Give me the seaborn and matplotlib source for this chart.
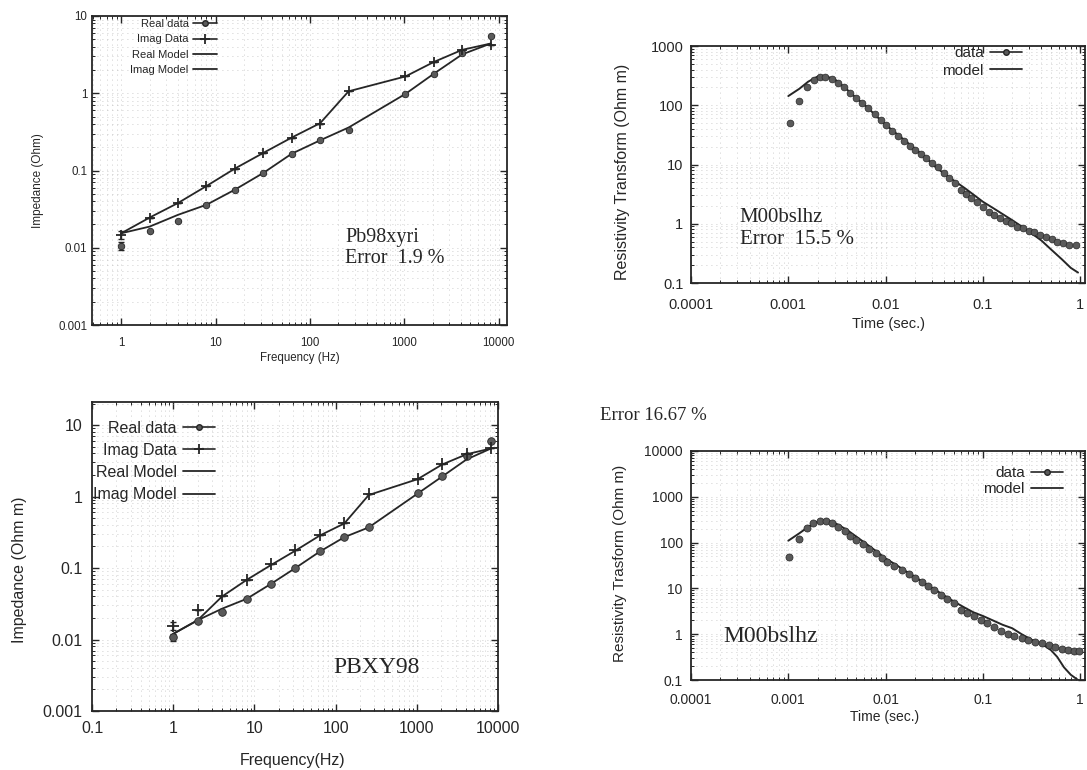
import numpy as np
import matplotlib
matplotlib.use("Agg")
import matplotlib.pyplot as plt
from matplotlib.lines import Line2D
from matplotlib.ticker import LogLocator, FuncFormatter, NullFormatter
import seaborn as sns


# top left: Pb98xyri impedance
tl_freq = [1, 2, 4, 8, 16, 32, 64, 128, 256, 1024, 2048, 4096, 8192]
tl_real = [0.0105, 0.0165, 0.022, 0.0353, 0.0553, 0.093, 0.162, 0.246, 0.333, 0.98, 1.79, 3.3, 5.5]
tl_imag = [0.0146, 0.0246, 0.038, 0.0625, 0.105, 0.167, 0.267, 0.40, 1.06, 1.65, 2.54, 3.6, 4.2]
tl_real_err = [0.0012, 0, 0, 0, 0, 0, 0, 0, 0, 0, 0, 0, 0]
tl_imag_err = [0.0018, 0, 0, 0, 0, 0, 0, 0, 0, 0, 0, 0, 0]
tl_real_model = [0.0154, 0.0188, 0.0267, 0.036, 0.0565, 0.093, 0.165, 0.246, 0.36, 0.98, 1.79, 3.19, 4.4]
tl_imag_model = [0.0154, 0.0246, 0.038, 0.063, 0.106, 0.169, 0.267, 0.41, 1.06, 1.65, 2.54, 3.65, 4.4]

# bottom left: PBXY98 impedance
bl_freq = [1, 2, 4, 8, 16, 32, 64, 128, 256, 1024, 2048, 4096, 8192]
bl_real = [0.0108, 0.0181, 0.0242, 0.0372, 0.0603, 0.1, 0.173, 0.272, 0.376, 1.12, 1.93, 3.67, 6.0]
bl_imag = [0.0157, 0.026, 0.040, 0.0686, 0.112, 0.177, 0.287, 0.428, 1.10, 1.75, 2.81, 3.92, 4.71]
bl_real_err = [0.0013, 0, 0, 0, 0, 0, 0, 0, 0, 0, 0, 0, 0]
bl_imag_err = [0.002, 0, 0, 0, 0, 0, 0, 0, 0, 0, 0, 0, 0]
bl_real_model = [0.012, 0.0186, 0.027, 0.037, 0.06, 0.1, 0.17, 0.27, 0.37, 1.1, 1.9, 3.3, 4.7]
bl_imag_model = [0.012, 0.0186, 0.040, 0.068, 0.11, 0.175, 0.285, 0.42, 1.05, 1.75, 2.8, 3.9, 4.7]

# top right: M00bslhz resistivity transform (error 15.5 %)
tr_time = [0.00103, 0.0013, 0.00155, 0.00182, 0.00212, 0.00239, 0.0028, 0.00323, 0.00374, 0.00431,
           0.00492, 0.00575, 0.00664, 0.00777, 0.00895, 0.0102, 0.0117, 0.0135, 0.0155, 0.0177,
           0.02, 0.023, 0.0262, 0.0302, 0.0345, 0.0398, 0.0448, 0.0512, 0.0589, 0.0673,
           0.0758, 0.0872, 0.0998, 0.115, 0.131, 0.151, 0.173, 0.195, 0.224, 0.256,
           0.295, 0.337, 0.385, 0.443, 0.507, 0.583, 0.673, 0.769, 0.898]
tr_rho = [50.7, 118, 206, 267, 303, 303, 277, 240, 201, 163,
          134, 108, 88.8, 70.3, 56.3, 46.5, 37.2, 30.6, 24.9, 20.5,
          17.6, 15, 12.7, 10.8, 8.9, 7.1, 5.84, 4.82, 3.72, 3.14,
          2.69, 2.36, 1.94, 1.6, 1.4, 1.24, 1.11, 1.02, 0.89, 0.84,
          0.76, 0.72, 0.645, 0.60, 0.547, 0.50, 0.468, 0.438, 0.43]
tr_mtime = [0.001, 0.0013, 0.0016, 0.002, 0.0024, 0.003, 0.004, 0.005, 0.0065, 0.008,
            0.01, 0.013, 0.016, 0.02, 0.025, 0.032, 0.04, 0.05, 0.065, 0.08,
            0.1, 0.13, 0.16, 0.2, 0.25, 0.32, 0.4, 0.5, 0.65, 0.8, 0.95]
tr_mrho = [143, 190, 250, 305, 310, 275, 185, 132, 92, 66,
           47, 33, 25, 18.5, 13.8, 9.3, 7.0, 5.4, 4.0, 3.1,
           2.35, 1.8, 1.45, 1.15, 0.9, 0.68, 0.52, 0.37, 0.25, 0.18, 0.15]

# bottom right: M00bslhz resistivity transform (error 16.67 %)
br_time = [0.00102, 0.00129, 0.00155, 0.00181, 0.00212, 0.00244, 0.0028, 0.00324, 0.0038, 0.00434,
           0.005, 0.00588, 0.00673, 0.00789, 0.0091, 0.0104, 0.0122, 0.0146, 0.0172, 0.0201,
           0.0235, 0.027, 0.0317, 0.0372, 0.0428, 0.0499, 0.0589, 0.0691, 0.081, 0.0949,
           0.111, 0.131, 0.153, 0.179, 0.21, 0.25, 0.294, 0.344, 0.404, 0.473,
           0.555, 0.65, 0.75, 0.86, 0.98]
br_rho = [47.8, 118, 205, 264, 301, 301, 272, 222, 182, 141,
          114, 91.3, 72, 58.3, 45.4, 37, 30.8, 25.2, 20.6, 16.6,
          14, 11.3, 9.2, 7.2, 5.8, 4.73, 3.38, 2.86, 2.5, 2.04,
          1.73, 1.41, 1.17, 1.01, 0.91, 0.84, 0.75, 0.69, 0.63, 0.58,
          0.52, 0.47, 0.45, 0.44, 0.44]
br_mtime = [0.001, 0.0013, 0.0016, 0.002, 0.0024, 0.003, 0.004, 0.005, 0.0065, 0.008,
            0.01, 0.013, 0.016, 0.02, 0.025, 0.032, 0.04, 0.05, 0.065, 0.08,
            0.1, 0.13, 0.16, 0.2, 0.25, 0.32, 0.4, 0.5, 0.58, 0.68, 0.8, 0.95]
br_mrho = [110, 160, 220, 285, 305, 270, 190, 135, 90, 65,
           45, 32, 24, 18, 13, 9.5, 7.0, 5.2, 3.8, 3.0,
           2.5, 1.95, 1.6, 1.35, 1.0, 0.75, 0.62, 0.45, 0.32, 0.19, 0.13, 0.1]


sns.set_style("ticks")
plt.rcParams['font.family'] = ['Liberation Sans', 'DejaVu Sans']
SERIF = ['Liberation Serif', 'DejaVu Serif']
INK = '#262626'
DOT = '#5a5a5a'

W, H = 1087, 770
fig = plt.figure(figsize=(W / 100, H / 100), dpi=100)


def box(x0, y0, x1, y1):
    # pixel box -> figure fraction
    return [x0 / W, 1 - y1 / H, (x1 - x0) / W, (y1 - y0) / H]


def px(x, y):
    return x / W, 1 - y / H


def style_axes(ax, xlim, ylim, fs, xpad, ypad):
    ax.set_xlim(*xlim)
    ax.set_ylim(*ylim)
    for axis in (ax.xaxis, ax.yaxis):
        axis.set_major_locator(LogLocator(base=10, numticks=20))
        axis.set_minor_locator(LogLocator(base=10, subs=np.arange(2, 10), numticks=100))
        axis.set_major_formatter(FuncFormatter(lambda v, p: f"{v:g}"))
        axis.set_minor_formatter(NullFormatter())
    ax.tick_params(which='both', direction='in', top=True, right=True, colors=INK, labelsize=fs)
    ax.tick_params(which='major', length=5, width=1)
    ax.tick_params(which='minor', length=2.5, width=0.7)
    ax.tick_params(axis='x', pad=xpad)
    ax.tick_params(axis='y', pad=ypad)
    # scanned gnuplot grid: sparse light dots
    ax.grid(True, which='both', color='#bdbdbd', linestyle=(0, (1, 5)), linewidth=0.6)
    for s in ax.spines.values():
        s.set_linewidth(1.3)
        s.set_color(INK)


def impedance_panel(ax, freq, real, imag, rerr, ierr, rmod, imod, ms):
    ax.set_xscale('log')
    ax.set_yscale('log')
    sns.lineplot(x=freq, y=rmod, ax=ax, color=INK, lw=1.3, legend=False)
    sns.lineplot(x=freq, y=imod, ax=ax, color=INK, lw=1.3, legend=False)
    ax.errorbar(freq, real, yerr=rerr, fmt='none', ecolor=INK, elinewidth=1, capsize=2.5)
    ax.errorbar(freq, imag, yerr=ierr, fmt='none', ecolor=INK, elinewidth=1, capsize=2.5)
    sns.scatterplot(x=freq, y=real, ax=ax, marker='o', s=ms, color=DOT, edgecolor=INK,
                    linewidth=0.6, zorder=4, legend=False)
    sns.scatterplot(x=freq, y=imag, ax=ax, marker='+', s=ms * 2.2, color=INK,
                    linewidth=1.3, zorder=4, legend=False)


def transform_panel(ax, t, rho, mt, mrho, ms):
    ax.set_xscale('log')
    ax.set_yscale('log')
    sns.lineplot(x=mt, y=mrho, ax=ax, color=INK, lw=1.4, legend=False)
    sns.scatterplot(x=t, y=rho, ax=ax, marker='o', s=ms, color=DOT, edgecolor=INK,
                    linewidth=0.5, zorder=4, legend=False)


imp_handles = [
    Line2D([], [], color=INK, lw=1.2, marker='o', ms=4, mfc=DOT, mec=INK),
    Line2D([], [], color=INK, lw=1.2, marker='+', ms=7, mew=1.3),
    Line2D([], [], color=INK, lw=1.3),
    Line2D([], [], color=INK, lw=1.3),
]
imp_labels = ['Real data', 'Imag Data', 'Real Model', 'Imag Model']
tem_handles = [
    Line2D([], [], color=INK, lw=1.2, marker='o', ms=4, mfc=DOT, mec=INK),
    Line2D([], [], color=INK, lw=1.3),
]
tem_labels = ['data', 'model']

# ---- top left ----
ax1 = fig.add_axes(box(92, 16, 507, 325))
impedance_panel(ax1, tl_freq, tl_real, tl_imag, tl_real_err, tl_imag_err,
                tl_real_model, tl_imag_model, 22)
style_axes(ax1, (0.49, 12200), (0.001, 10), 8.3, 9, 3.5)
ax1.legend(imp_handles, imp_labels, loc='upper right', bbox_to_anchor=(0.30, 0.99),
           frameon=False, markerfirst=False, fontsize=8, handlelength=2.1,
           handletextpad=0.4, labelspacing=0.48, borderpad=0, borderaxespad=0)
ax1.text(0.61, 0.25, "Pb98xyri\nError  1.9 %", transform=ax1.transAxes, family=SERIF,
         fontsize=14.5, va='center', ha='left', color=INK, linespacing=1.15)
fig.text(*px(300, 358), "Frequency (Hz)", ha='center', va='center', fontsize=8.3, color=INK)
fig.text(*px(38, 181), "Impedance (Ohm)", ha='center', va='center', rotation=90,
         fontsize=8.5, color=INK)

# ---- top right ----
ax2 = fig.add_axes(box(691, 46, 1085, 283))
transform_panel(ax2, tr_time, tr_rho, tr_mtime, tr_mrho, 24)
style_axes(ax2, (1e-4, 1.12), (0.1, 1000), 10.5, 11, 5.5)
ax2.legend(tem_handles, tem_labels, loc='upper right', bbox_to_anchor=(0.84, 1.0),
           frameon=False, markerfirst=False, fontsize=11, handlelength=2.1,
           handletextpad=0.4, labelspacing=0.25, borderpad=0, borderaxespad=0)
ax2.text(0.124, 0.23, "M00bslhz\nError  15.5 %", transform=ax2.transAxes, family=SERIF,
         fontsize=15, va='center', ha='left', color=INK, linespacing=1.15)
fig.text(*px(888, 324), "Time (sec.)", ha='center', va='center', fontsize=10.5, color=INK)
fig.text(*px(622, 172), "Resistivity Transform (Ohm m)", ha='center', va='center',
         rotation=90, fontsize=11.5, color=INK)

# ---- bottom left ----
ax3 = fig.add_axes(box(92, 402, 498, 711))
impedance_panel(ax3, bl_freq, bl_real, bl_imag, bl_real_err, bl_imag_err,
                bl_real_model, bl_imag_model, 30)
style_axes(ax3, (0.1, 10000), (0.001, 21), 11.5, 7, 7)
ax3.legend(imp_handles, imp_labels, loc='upper right', bbox_to_anchor=(0.303, 0.94),
           frameon=False, markerfirst=False, fontsize=11.5, handlelength=2.0,
           handletextpad=0.4, labelspacing=0.45, borderpad=0, borderaxespad=0)
ax3.text(0.594, 0.142, "PBXY98", transform=ax3.transAxes, family=SERIF,
         fontsize=17, va='center', ha='left', color=INK)
fig.text(*px(293, 760), "Frequency(Hz)", ha='center', va='center', fontsize=11.5, color=INK)
fig.text(*px(20, 570), "Impedance (Ohm m)", ha='center', va='center', rotation=90,
         fontsize=11.5, color=INK)

# ---- bottom right ----
ax4 = fig.add_axes(box(691, 451, 1085, 680))
transform_panel(ax4, br_time, br_rho, br_mtime, br_mrho, 26)
style_axes(ax4, (1e-4, 1.12), (0.1, 10000), 10, 9, 6)
ax4.legend(tem_handles, tem_labels, loc='upper right', bbox_to_anchor=(0.944, 0.935),
           frameon=False, markerfirst=False, fontsize=11, handlelength=2.1,
           handletextpad=0.4, labelspacing=0.15, borderpad=0, borderaxespad=0)
ax4.text(0.081, 0.188, "M00bslhz", transform=ax4.transAxes, family=SERIF,
         fontsize=17, va='center', ha='left', color=INK)
fig.text(*px(885, 717), "Time (sec.)", ha='center', va='center', fontsize=10, color=INK)
fig.text(*px(620, 563), "Resistivity Trasform (Ohm m)", ha='center', va='center',
         rotation=90, fontsize=11, color=INK)
fig.text(*px(600, 415), "Error 16.67 %", ha='left', va='center', family=SERIF,
         fontsize=13.5, color=INK)

fig.savefig("out.png", dpi=100)
